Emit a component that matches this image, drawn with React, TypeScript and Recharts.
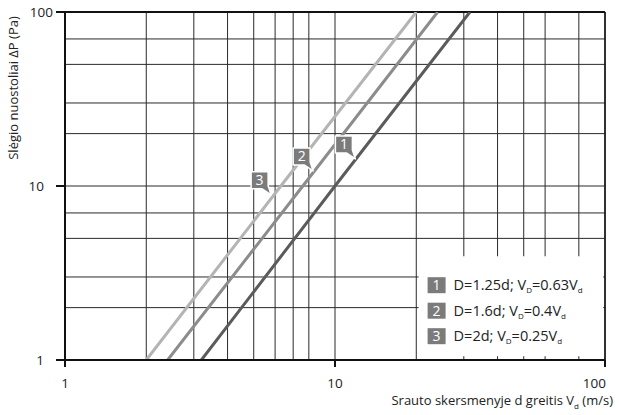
import React from 'react';
import {
  LineChart,
  Line,
  XAxis,
  YAxis,
  CartesianGrid,
  ReferenceArea,
  ReferenceDot,
  ReferenceLine,
  Label,
} from 'recharts';

const curve1 = [
  { v: 3.2, dp: 1 },
  { v: 10, dp: 10 },
  { v: 31.6, dp: 100 },
];
const curve2 = [
  { v: 2.4, dp: 1 },
  { v: 7.6, dp: 10 },
  { v: 24, dp: 100 },
];
const curve3 = [
  { v: 2, dp: 1 },
  { v: 6.3, dp: 10 },
  { v: 20, dp: 100 },
];

const majorTicks = [1, 10, 100];
const gridValues = [1, 2, 3, 4, 5, 6, 7, 8, 9, 10, 20, 30, 40, 50, 60, 70, 80, 90, 100];

// where the numbered callouts point to each curve
const calloutPoints = [
  { num: '1', v: 11.9, dp: 14.3 },
  { num: '2', v: 8.3, dp: 12.2 },
  { num: '3', v: 5.8, dp: 8.9 },
];

const legendRows = [
  { num: '1', d: 'D=1.25d; V', ratio: '=0.63V' },
  { num: '2', d: 'D=1.6d; V', ratio: '=0.4V' },
  { num: '3', d: 'D=2d; V', ratio: '=0.25V' },
];

const FONT = '"Open Sans", "Noto Sans", sans-serif';
const colors = { c1: '#5b5b5b', c2: '#8c8c8c', c3: '#b4b4b4', tag: '#7b7b7b', grid: '#2a2a2a' };

function XTick({ x, y, payload }: any) {
  const last = payload.value === 100;
  return (
    <text
      x={last ? x + 1 : x}
      y={y + 19}
      textAnchor={last ? 'end' : 'middle'}
      fill="#222"
      fontSize={13.5}
      fontFamily={FONT}
    >
      {payload.value}
    </text>
  );
}

function YTick({ x, y, payload }: any) {
  const right = payload.value === 100 ? 53 : 44;
  return (
    <text x={right} y={y + 5} textAnchor="end" fill="#222" fontSize={13.5} fontFamily={FONT}>
      {payload.value}
    </text>
  );
}

function Callout(props: any) {
  const { cx, cy, num } = props;
  const d = `M${cx - 20},${cy - 23} H${cx - 3} V${cy - 9} L${cx},${cy} L${cx - 9},${cy - 6} H${cx - 20} Z`;
  return (
    <g>
      <path d={d} fill={colors.tag} stroke="#fff" strokeWidth={1.5} strokeLinejoin="round" />
      <text x={cx - 11.5} y={cy - 9.5} textAnchor="middle" fill="#fff" fontSize={14} fontFamily={FONT}>
        {num}
      </text>
    </g>
  );
}

function LegendBox({ viewBox }: any) {
  const { x, y } = viewBox;
  return (
    <g fontFamily={FONT}>
      {legendRows.map((row, i) => {
        const cy = y + 29 + i * 25.5;
        return (
          <g key={row.num}>
            <rect x={x + 9} y={cy - 8} width={18} height={16} fill={colors.tag} />
            <text x={x + 18} y={cy + 5} textAnchor="middle" fill="#fff" fontSize={14}>
              {row.num}
            </text>
            <text x={x + 35} y={cy + 5} fill="#222" fontSize={14.5}>
              {row.d}
              <tspan fontSize={8} dy={3}>D</tspan>
              <tspan dy={-3}>{row.ratio}</tspan>
              <tspan fontSize={8} dy={3}>d</tspan>
            </text>
          </g>
        );
      })}
    </g>
  );
}

function YTitle() {
  return (
    <text
      x={13}
      y={88}
      transform="rotate(-90 13 88)"
      textAnchor="middle"
      dominantBaseline="central"
      fill="#222"
      fontSize={13}
      fontFamily={FONT}
    >
      Slėgio nuostoliai ΔP (Pa)
    </text>
  );
}

function XTitle() {
  return (
    <text x={613} y={405} textAnchor="end" fill="#222" fontSize={13} fontFamily={FONT}>
      Srauto skersmenyje d greitis V
      <tspan fontSize={8} dy={4}>d</tspan>
      <tspan dy={-4}> (m/s)</tspan>
    </text>
  );
}

export default function App() {
  return (
    <div style={{ position: 'absolute', left: 0, top: 0, background: '#fff' }}>
      <LineChart width={619} height={415} margin={{ top: 12, right: 14, bottom: 0, left: 0 }}>
        <CartesianGrid
          stroke={colors.grid}
          strokeWidth={1}
          horizontalValues={gridValues}
          verticalValues={gridValues}
        />
        <XAxis
          type="number"
          dataKey="v"
          scale="log"
          domain={[1, 100]}
          ticks={majorTicks}
          allowDataOverflow
          height={55}
          stroke="#111"
          strokeWidth={2}
          tickSize={7}
          tick={<XTick />}
        >
          <Label content={<XTitle />} />
        </XAxis>
        <YAxis
          type="number"
          dataKey="dp"
          scale="log"
          domain={[1, 100]}
          ticks={majorTicks}
          allowDataOverflow
          width={65}
          stroke="#111"
          strokeWidth={2}
          tickSize={9}
          tick={<YTick />}
        >
          <Label content={<YTitle />} />
        </YAxis>
        <ReferenceLine y={100} stroke="#111" strokeWidth={2} />
        <ReferenceLine x={100} stroke="#111" strokeWidth={1.5} />
        <ReferenceArea
          x1={20.4}
          x2={98.5}
          y1={1.05}
          y2={3.95}
          fill="#fff"
          fillOpacity={1}
          stroke="none"
          label={<Label content={<LegendBox />} />}
        />
        <Line data={curve1} dataKey="dp" type="linear" stroke={colors.c1} strokeWidth={3} dot={false} isAnimationActive={false} />
        <Line data={curve2} dataKey="dp" type="linear" stroke={colors.c2} strokeWidth={3} dot={false} isAnimationActive={false} />
        <Line data={curve3} dataKey="dp" type="linear" stroke={colors.c3} strokeWidth={3} dot={false} isAnimationActive={false} />
        {calloutPoints.map((c) => (
          <ReferenceDot
            key={c.num}
            x={c.v}
            y={c.dp}
            r={0}
            shape={(p: any) => <Callout {...p} num={c.num} />}
          />
        ))}
      </LineChart>
    </div>
  );
}
